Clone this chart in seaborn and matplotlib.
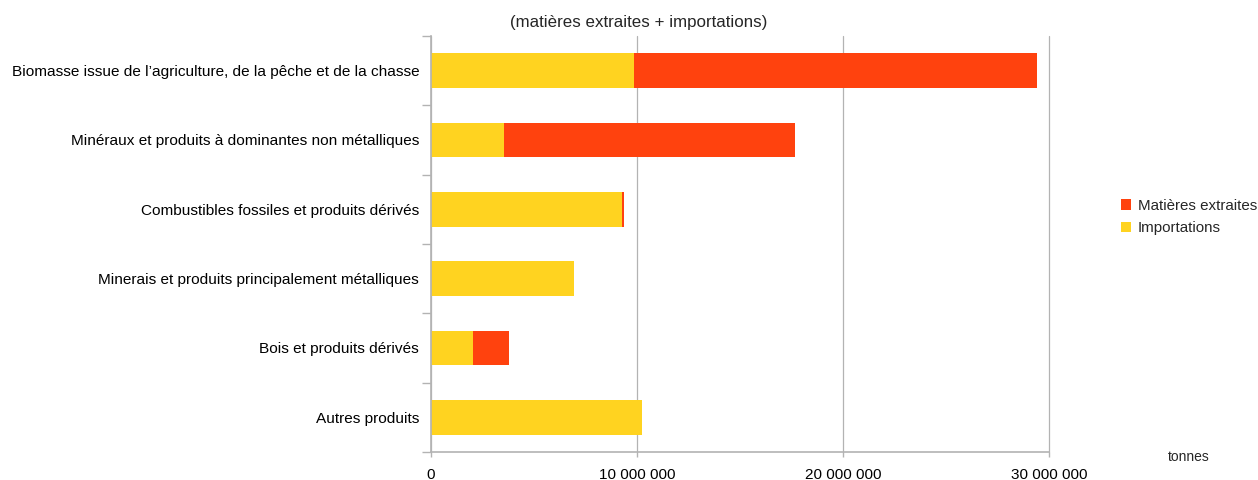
import matplotlib
matplotlib.use("Agg")
import matplotlib.pyplot as plt
from matplotlib.ticker import FuncFormatter, FixedLocator
from matplotlib.patches import Patch
import seaborn as sns
import pandas as pd

categories = [
    "Biomasse issue de l\u2019agriculture, de la pêche et de la chasse",
    "Minéraux et produits à dominantes non métalliques",
    "Combustibles fossiles et produits dérivés",
    "Minerais et produits principalement métalliques",
    "Bois et produits dérivés",
    "Autres produits",
]
importations = [9_850_000, 3_540_000, 9_270_000, 6_940_000, 2_040_000, 10_240_000]
matieres_extraites = [19_550_000, 14_130_000, 100_000, 0, 1_750_000, 0]

RED = "#FF420E"
YELLOW = "#FFD320"
GRID = "#B3B3B3"

sns.set_theme(style="white")
plt.rcParams["font.family"] = ["Liberation Sans", "DejaVu Sans"]

df = pd.DataFrame({
    "categorie": categories,
    "importations": importations,
    "extraites": matieres_extraites,
})
df["total"] = df["importations"] + df["extraites"]

fig = plt.figure(figsize=(12.58, 4.80), dpi=100)
ax = fig.add_axes([431 / 1258, 1 - 452 / 480, (1049 - 431) / 1258, (452 - 36) / 480])

# stacked bars: the total in red, imports drawn on top from zero
sns.barplot(data=df, x="total", y="categorie", color=RED, width=0.5,
            saturation=1, ax=ax, orient="h")
sns.barplot(data=df, x="importations", y="categorie", color=YELLOW, width=0.5,
            saturation=1, ax=ax, orient="h")
for p in ax.patches:
    p.set_edgecolor("none")
    p.set_linewidth(0)

ax.set_xlim(0, 30_000_000)
ax.set_ylim(5.5, -0.5)
ax.set_xlabel("")
ax.set_ylabel("")

ax.xaxis.set_major_locator(FixedLocator([0, 10_000_000, 20_000_000, 30_000_000]))
ax.xaxis.set_major_formatter(FuncFormatter(lambda v, _: f"{int(v):,}".replace(",", " ")))
ax.grid(axis="x", color=GRID, linewidth=0.9)
for gl in ax.get_xgridlines():
    gl.set_clip_on(False)
ax.set_axisbelow(True)

ax.yaxis.set_minor_locator(FixedLocator([i - 0.5 for i in range(len(categories) + 1)]))
ax.tick_params(axis="y", which="major", length=0, pad=8.5, labelsize=11.1, labelcolor="#000000")
ax.tick_params(axis="y", which="minor", length=6.5, width=1, color=GRID, direction="out", left=True)
ax.tick_params(axis="x", which="major", length=3.5, width=1, color=GRID, direction="out",
               bottom=True, pad=8, labelsize=11, labelcolor="#000000")

for side in ("top", "right"):
    ax.spines[side].set_visible(False)
for side in ("left", "bottom"):
    ax.spines[side].set_color(GRID)
    ax.spines[side].set_linewidth(1.2)

fig.text(639 / 1258, 1 - 22 / 480, "(matières extraites + importations)",
         ha="center", va="center", fontsize=12.2)
fig.text(1189 / 1258, 1 - 457 / 480, "tonnes", ha="center", va="center", fontsize=10)

handles = [Patch(facecolor=RED, edgecolor="none", label="Matières extraites"),
           Patch(facecolor=YELLOW, edgecolor="none", label="Importations")]
fig.legend(handles=handles, loc="center left", bbox_to_anchor=(1121 / 1258, 1 - 217 / 480),
           frameon=False, fontsize=10.9, handlelength=0.65, handleheight=0.65,
           handletextpad=0.45, labelspacing=0.55, borderpad=0, borderaxespad=0)

fig.savefig("out.png", dpi=100)
